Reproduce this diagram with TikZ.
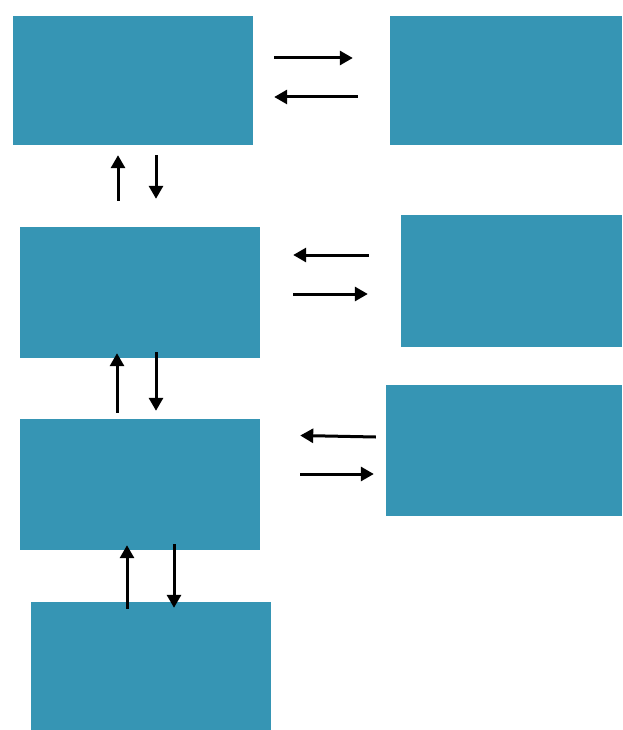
\documentclass[tikz,border=0pt]{standalone}
\usepackage{xcolor}
\usepackage{tikz}
\usetikzlibrary{arrows.meta, positioning, calc}
\definecolor{myteal}{RGB}{54,149,180}
\definecolor{mydark}{RGB}{0,0,0}
\tikzset{
  block/.style={rectangle, fill=myteal, draw=none, inner sep=0pt},
  arrow/.style={-{Triangle[length=13pt, width=14pt]}, line width=3pt, color=mydark}
}

\begin{document}
\begin{tikzpicture}[x=1pt, y=-1pt]
  \useasboundingbox (0,0) rectangle (622,730);

  \node[block, minimum width=240pt, minimum height=129pt] (top) at (133,80.5) {};
  \node[block, minimum width=232pt, minimum height=129pt] (topside) at (506,80.5) {};
  \node[block, minimum width=240pt, minimum height=131pt] (second) at (140,292.5) {};
  \node[block, minimum width=221pt, minimum height=132pt] (secondside) at (511.5,281) {};
  \node[block, minimum width=240pt, minimum height=131pt] (third) at (140,484.5) {};
  \node[block, minimum width=236pt, minimum height=131pt] (thirdside) at (504,450.5) {};
  \node[block, minimum width=240pt, minimum height=128pt] (bottom) at (151,666) {};

  % Connections
  \draw[arrow] ([shift={(21,-22.5)}]top.east) -- ([shift={(-37,-22.5)}]topside.west);
  \draw[arrow] ([shift={(-32,16.5)}]topside.west) -- ([shift={(21,16.5)}]top.east);

  \draw[arrow] ([shift={(-22,-26)}]second.north) -- ([shift={(-15,10)}]top.south);
  \draw[arrow] ([shift={(23,10)}]top.south) -- ([shift={(16,-28)}]second.north);

  \draw[arrow] ([shift={(-32,-26)}]secondside.west) -- ([shift={(33,-37.5)}]second.east);
  \draw[arrow] ([shift={(33,1.5)}]second.east) -- ([shift={(-33,13)}]secondside.west);

  \draw[arrow] ([shift={(-23,-6)}]third.north) -- ([shift={(-23,-5)}]second.south);
  \draw[arrow] ([shift={(16,-6)}]second.south) -- ([shift={(16,-8)}]third.north);

  \draw[arrow] ([shift={(-10,-13.5)}]thirdside.west) -- ([shift={(40,-49)}]third.east);
  \draw[arrow] ([shift={(40,-10.5)}]third.east) -- ([shift={(-12,23.5)}]thirdside.west);

  \draw[arrow] ([shift={(-24,7)}]bottom.north) -- ([shift={(-13,-5)}]third.south);
  \draw[arrow] ([shift={(34,-6)}]third.south) -- ([shift={(23,6)}]bottom.north);
\end{tikzpicture}
\end{document}
